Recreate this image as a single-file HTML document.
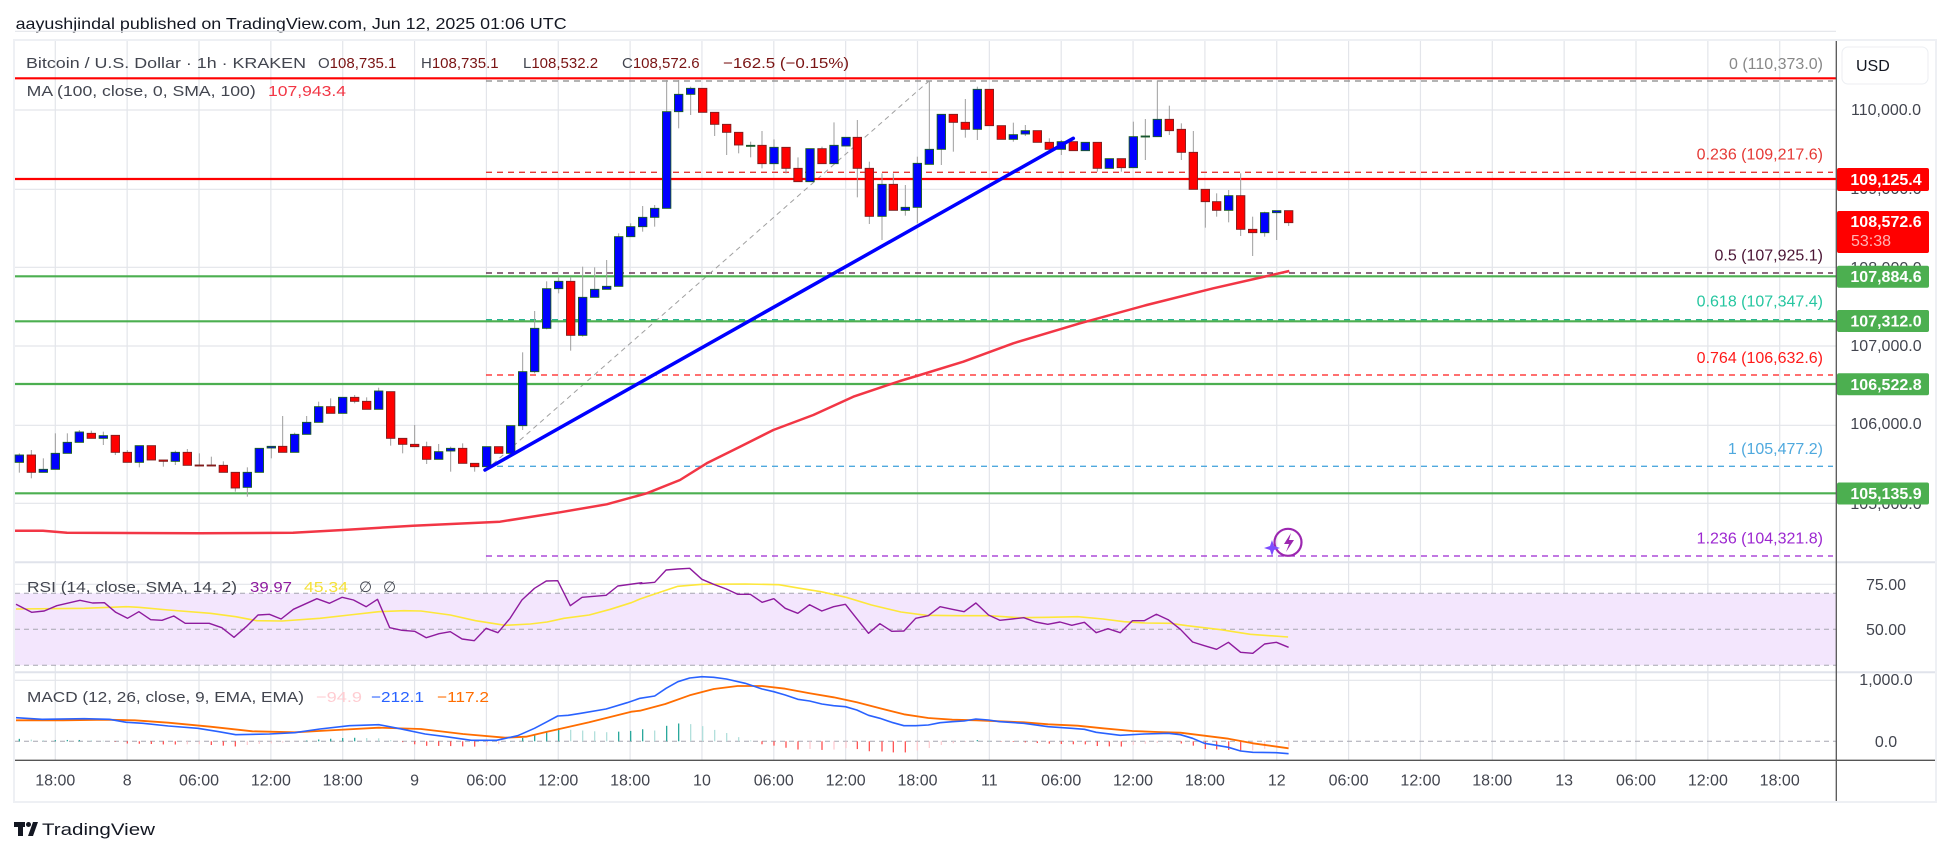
<!DOCTYPE html>
<html><head><meta charset="utf-8"><style>
html,body{margin:0;padding:0;background:#fff;}
svg{display:block;font-family:"Liberation Sans",Arial,sans-serif;}
</style></head><body>
<svg id="s" width="1950" height="855" viewBox="0 0 1950 855" xmlns="http://www.w3.org/2000/svg">
<rect width="1950" height="855" fill="#fff"/>
<text x="15.6" y="29" font-size="16" fill="#131722" textLength="551" lengthAdjust="spacingAndGlyphs">aayushjindal published on TradingView.com, Jun 12, 2025 01:06 UTC</text>
<rect x="14" y="40" width="1922" height="762" fill="none" stroke="#eef0f4" stroke-width="2"/>
<g id="grid"></g>
<!-- RSI band -->
<rect x="15" y="593.3" width="1821" height="72" fill="#f3e6fd"/>
<line x1="15" x2="1836" y1="593.3" y2="593.3" stroke="#a6a6b0" stroke-dasharray="5,4"/>
<line x1="15" x2="1836" y1="629.3" y2="629.3" stroke="#a6a6b0" stroke-dasharray="5,4"/>
<line x1="15" x2="1836" y1="665.3" y2="665.3" stroke="#a6a6b0" stroke-dasharray="5,4"/>
<line x1="15" x2="1836" y1="741.3" y2="741.3" stroke="#a6a6b0" stroke-dasharray="5,4"/>
<!-- pane separators -->
<line x1="15" x2="1935" y1="562.3" y2="562.3" stroke="#e0e3eb" stroke-width="2"/>
<line x1="15" x2="1935" y1="672.3" y2="672.3" stroke="#e0e3eb" stroke-width="2"/>
<!-- fib dashed lines -->
<g stroke-width="1.3" stroke-dasharray="6,5">
<line x1="486" x2="1833" y1="81" y2="81" stroke="#888"/>
<line x1="486" x2="1833" y1="172.3" y2="172.3" stroke="#e53935"/>
<line x1="486" x2="1833" y1="273" y2="273" stroke="#4a1535"/>
<line x1="486" x2="1833" y1="319.7" y2="319.7" stroke="#26b58f"/>
<line x1="486" x2="1833" y1="375" y2="375" stroke="#ff1a1a"/>
<line x1="486" x2="1833" y1="466.3" y2="466.3" stroke="#4fa9de"/>
<line x1="486" x2="1833" y1="556" y2="556" stroke="#9c27d0"/>
</g>
<line x1="486" y1="470" x2="929.3" y2="80.7" stroke="#a0a0a0" stroke-width="1" stroke-dasharray="5,4"/>
<!-- S/R lines -->
<g stroke-width="2.2">
<line x1="15" x2="1836" y1="78.3" y2="78.3" stroke="#ff0000"/>
<line x1="15" x2="1836" y1="179" y2="179" stroke="#ff0000"/>
<line x1="15" x2="1836" y1="276.3" y2="276.3" stroke="#4caf50"/>
<line x1="15" x2="1836" y1="321.3" y2="321.3" stroke="#4caf50"/>
<line x1="15" x2="1836" y1="384" y2="384" stroke="#4caf50"/>
<line x1="15" x2="1836" y1="493.3" y2="493.3" stroke="#4caf50"/>
</g>
<g id="ma"></g>
<g id="candles"></g>
<line x1="485" y1="470" x2="1073.3" y2="138.3" stroke="#0000ff" stroke-width="3.5" stroke-linecap="round"/>
<g id="ind"></g>
<!-- axes -->
<line x1="1836.3" x2="1836.3" y1="41" y2="801" stroke="#555" stroke-width="1.3"/>
<line x1="15" x2="1935" y1="760.3" y2="760.3" stroke="#555" stroke-width="1.3"/>
<!-- legends -->
<g font-size="15">
<text x="26" y="68" fill="#42454f" textLength="280" lengthAdjust="spacingAndGlyphs">Bitcoin / U.S. Dollar · 1h · KRAKEN</text>
<text x="318" y="68" fill="#42454f">O<tspan fill="#7a1414">108,735.1</tspan></text>
<text x="421" y="68" fill="#42454f">H<tspan fill="#7a1414">108,735.1</tspan></text>
<text x="523" y="68" fill="#42454f">L<tspan fill="#7a1414">108,532.2</tspan></text>
<text x="622" y="68" fill="#42454f">C<tspan fill="#7a1414">108,572.6</tspan></text>
<text x="723" y="68" fill="#7a1414" textLength="126" lengthAdjust="spacingAndGlyphs">−162.5 (−0.15%)</text>
<text x="26.7" y="96" fill="#42454f" textLength="229" lengthAdjust="spacingAndGlyphs">MA (100, close, 0, SMA, 100)</text>
<text x="268" y="96" fill="#f23645" textLength="78" lengthAdjust="spacingAndGlyphs">107,943.4</text>
<text x="27" y="592" fill="#42454f" textLength="210" lengthAdjust="spacingAndGlyphs">RSI (14, close, SMA, 14, 2)</text>
<text x="250" y="592" fill="#8e1b9e" textLength="42" lengthAdjust="spacingAndGlyphs">39.97</text>
<text x="304" y="592" fill="#f5e13a" textLength="44" lengthAdjust="spacingAndGlyphs">45.34</text>
<text x="359" y="592" fill="#42454f">∅</text>
<text x="383" y="592" fill="#42454f">∅</text>
<text x="27" y="702" fill="#42454f" textLength="277" lengthAdjust="spacingAndGlyphs">MACD (12, 26, close, 9, EMA, EMA)</text>
<text x="316" y="702" fill="#ffcdd2" textLength="46" lengthAdjust="spacingAndGlyphs">−94.9</text>
<text x="371" y="702" fill="#2962ff" textLength="53" lengthAdjust="spacingAndGlyphs">−212.1</text>
<text x="437" y="702" fill="#ff6d00" textLength="52" lengthAdjust="spacingAndGlyphs">−117.2</text>
</g>
<!-- fib labels -->
<g font-size="16" text-anchor="end">
<text x="1823" y="69" fill="#888">0 (110,373.0)</text>
<text x="1823" y="159.5" fill="#e53935">0.236 (109,217.6)</text>
<text x="1823" y="260.5" fill="#4a1535">0.5 (107,925.1)</text>
<text x="1823" y="306.5" fill="#26c6a0">0.618 (107,347.4)</text>
<text x="1823" y="363" fill="#ff1a1a">0.764 (106,632.6)</text>
<text x="1823" y="454" fill="#4fa9de">1 (105,477.2)</text>
<text x="1823" y="543.5" fill="#9c27d0">1.236 (104,321.8)</text>
</g>
<!-- lightning icon -->
<circle cx="1288" cy="542.3" r="13.5" fill="none" stroke="#9c27b0" stroke-width="2.2"/>
<path d="M1291 533 L1284 544 L1289 544 L1286 552 L1294 540 L1289 540 Z" fill="#9c27b0"/>
<path d="M1272 540 L1274 546 L1280 548 L1274 550 L1272 556 L1270 550 L1264 548 L1270 546 Z" fill="#7c4dff"/>
<!-- price axis -->
<rect x="1842" y="47" width="86" height="37" rx="6" fill="#fff" stroke="#eceef2"/>
<text x="1856" y="71" font-size="16" fill="#131722">USD</text>
<g font-size="16" fill="#42454f" text-anchor="middle">
<text x="1886" y="115">110,000.0</text>
<text x="1886" y="194">109,000.0</text>
<text x="1886" y="273">108,000.0</text>
<text x="1886" y="351">107,000.0</text>
<text x="1886" y="429">106,000.0</text>
<text x="1886" y="509">105,000.0</text>
<text x="1886" y="590">75.00</text>
<text x="1886" y="635">50.00</text>
<text x="1886" y="685">1,000.0</text>
<text x="1886" y="747">0.0</text>
</g>
<g font-size="16" fill="#fff" text-anchor="middle" font-weight="bold">
<rect x="1837" y="168" width="92" height="23" rx="2" fill="#ff0000"/><text x="1886" y="185">109,125.4</text>
<rect x="1837" y="211" width="92" height="42" rx="2" fill="#ff0000"/><text x="1886" y="227">108,572.6</text>
<text x="1871" y="246" fill="#ffb3b3" font-weight="normal">53:38</text>
<rect x="1837" y="265.7" width="92" height="22" rx="2" fill="#4caf50"/><text x="1886" y="282">107,884.6</text>
<rect x="1837" y="310" width="92" height="22" rx="2" fill="#4caf50"/><text x="1886" y="326.5">107,312.0</text>
<rect x="1837" y="373.3" width="92" height="22" rx="2" fill="#4caf50"/><text x="1886" y="390">106,522.8</text>
<rect x="1837" y="482.5" width="92" height="22" rx="2" fill="#4caf50"/><text x="1886" y="499">105,135.9</text>
</g>
<g id="time" font-size="16" fill="#42454f" text-anchor="middle"></g>
<!-- footer logo -->
<g fill="#131722">
<rect x="14" y="822" width="11" height="5"/><rect x="18" y="822" width="5" height="14"/>
<circle cx="28.5" cy="824.5" r="2.5"/>
<path d="M33 822 L38 822 L33 836 L28 836 Z"/>
<text x="42" y="835" font-size="17" textLength="113" lengthAdjust="spacingAndGlyphs">TradingView</text>
</g>
</svg>
<script>
(function(){
var NS="http://www.w3.org/2000/svg";
function el(parent,tag,attrs,txt){var e=document.createElementNS(NS,tag);for(var k in attrs)e.setAttribute(k,attrs[k]);if(txt!=null)e.textContent=txt;document.getElementById(parent).appendChild(e);return e;}
// grid
var gy=[31.3,110,189.3,267.3,346,425.3,503.3];
gy.forEach(function(y){el('grid','line',{x1:15,x2:1836,y1:y,y2:y,stroke:'#e3e5ea','stroke-width':1.2});});
el('grid','line',{x1:15,x2:1836,y1:584.3,y2:584.3,stroke:'#e3e5ea','stroke-width':1.2});
el('grid','line',{x1:15,x2:1836,y1:680.3,y2:680.3,stroke:'#e3e5ea','stroke-width':1.2});
var labels=["18:00","8","06:00","12:00","18:00","9","06:00","12:00","18:00","10","06:00","12:00","18:00","11","06:00","12:00","18:00","12","06:00","12:00","18:00","13","06:00","12:00","18:00"];
for(var k=0;k<25;k++){var x=55.3+71.85*k;
 el('grid','line',{x1:x,x2:x,y1:41,y2:760,stroke:'#e3e5ea','stroke-width':1.2});
 el('time','text',{x:x,y:785.5},labels[k]);}
// candles [px,bt,bb,c,wt,wb]
var groups=[[0,[[58,1185,1207,'b',1180,1238],[94,1185,1237,'r',1170,1255],[130,1228,1237,'b',1195,1237],[166,1180,1228,'b',1120,1228],[202,1147,1180,'b',1120,1180],[238,1116,1147,'b',1110,1147],[274,1120,1135,'r',1112,1135],[310,1127,1135,'b',1115,1155],[346,1126,1177,'r',1126,1185],[382,1177,1207,'r',1170,1207],[418,1157,1207,'b',1157,1222],[454,1157,1200,'r',1157,1200],[490,1200,1204,'r',1200,1220],[526,1177,1204,'b',1172,1215],[562,1177,1216,'r',1167,1216],[598,1215,1217,'r',1180,1217],[634,1215,1217,'r',1190,1217],[670,1216,1237,'r',1204,1237],[706,1237,1284,'r',1237,1295],[742,1237,1282,'b',1222,1310],[778,1165,1237,'b',1165,1237],[814,1159,1164,'b',1159,1195],[848,1159,1177,'r',1068,1177],[884,1123,1177,'b',1118,1177],[920,1087,1123,'b',1068,1123],[956,1040,1087,'b',1025,1087],[992,1040,1060,'r',1015,1060],[1028,1012,1060,'b',1012,1060],[1064,1012,1024,'r',1005,1030],[1100,1024,1048,'r',1012,1048],[1136,993,1048,'b',983,1048],[1172,995,1135,'r',995,1157],[1208,1135,1153,'r',1135,1180],[1244,1153,1160,'r',1095,1160],[1280,1160,1198,'r',1145,1212],[1316,1175,1198,'b',1152,1198],[1352,1165,1173,'b',1160,1235],[1388,1165,1210,'r',1150,1210],[1424,1210,1220,'r',1210,1235],[1460,1160,1220,'b',1160,1220]]],
[480,[[56,1160,1180,'r',1160,1180],[92,1097,1180,'b',1097,1180],[128,935,1097,'b',877,1110],[164,805,935,'b',753,940],[200,686,805,'b',664,808],[236,664,686,'b',650,700],[272,664,826,'r',650,872],[308,712,826,'b',620,830],[344,688,712,'b',622,712],[380,679,688,'b',600,688],[416,530,679,'b',520,679],[452,500,530,'b',490,530],[488,472,500,'b',438,515],[524,445,472,'b',435,500],[560,155,445,'b',60,445],[596,103,155,'b',60,205],[632,85,103,'b',80,165],[668,85,157,'r',85,157],[704,157,193,'r',157,228],[740,193,217,'r',193,285],[776,217,255,'r',217,280],[812,256,258,'b',245,292],[846,256,311,'r',213,325],[882,262,311,'b',238,330],[918,262,325,'r',262,340],[954,325,365,'r',292,365],[990,266,365,'b',266,365],[1026,266,311,'r',260,311],[1062,256,311,'b',187,311],[1098,232,258,'b',232,258],[1132,232,325,'r',180,412],[1168,325,469,'r',305,492],[1206,373,469,'b',340,540]]],
[880,[[40,373,451,'r',340,451],[76,442,451,'b',375,467],[112,310,442,'b',290,490],[148,268,313,'b',62,313],[184,163,268,'b',163,315],[220,163,187,'r',163,275],[256,187,208,'r',117,233],[292,88,208,'b',80,240],[328,88,197,'r',88,197],[364,197,238,'r',197,238],[400,224,238,'b',188,245],[436,212,222,'b',195,228],[472,212,247,'r',212,247],[508,247,268,'r',235,268],[544,245,268,'b',240,285],[580,245,272,'r',245,272],[616,247,272,'b',247,272],[652,247,325,'r',247,335],[688,296,325,'b',296,325],[724,296,323,'r',296,335],[760,230,323,'b',185,323],[796,228,231,'b',177,300],[832,178,230,'b',62,230],[868,178,212,'r',137,225],[904,208,277,'r',190,300],[940,277,388,'r',213,388],[976,388,425,'r',388,503],[1010,425,451,'r',400,470],[1046,407,451,'b',390,487],[1082,407,508,'r',340,528],[1118,508,518,'r',470,588],[1154,458,518,'b',455,530],[1190,452,458,'b',452,540],[1226,452,488,'r',452,498]]]];
var cx=[];
groups.forEach(function(g){g[1].forEach(function(c){
 var x=g[0]+c[0]/3, bt=60+c[1]/3, bb=60+c[2]/3, wt=60+c[4]/3, wb=60+c[5]/3;
 cx.push(x);
 el('candles','line',{x1:x,x2:x,y1:wt,y2:wb,stroke:'#9e9e9e','stroke-width':1});
 var h=Math.max(bb-bt,1);
 if(c[3]=='b') el('candles','rect',{x:x-4.2,y:bt,width:8.4,height:h,fill:'#0000ff',stroke:'#1b5e20','stroke-width':0.9});
 else el('candles','rect',{x:x-4.2,y:bt,width:8.4,height:h,fill:'#ff0000',stroke:'#7b1f1f','stroke-width':0.9});
});});
// MA
var ma=[[15,530.7],[43,530.7],[67,532.7],[200,533.3],[293,532.7],[343,530],[413,525.7],[500,521.7],[560,512.3],[606.7,504.3],[646.7,493.3],[680,480],[706.7,463.3],[740,446.7],[773.3,430],[813.3,415],[853.3,396.7],[900,381],[916.7,376],[963.3,361.7],[1013.3,343.3],[1080,323.3],[1146.7,305],[1213.3,288.3],[1289.3,271]];
el('ma','polyline',{points:ma.map(function(p){return p.join(',')}).join(' '),fill:'none',stroke:'#f23645','stroke-width':2.5,'stroke-linejoin':'round'});
// indicators
function conv(x0,arr){return arr.map(function(p){return [x0+p[0]/2.376,560+p[1]/3];});}
var rsi=conv(0,[[38,133],[75,157],[105,153],[135,137],[190,121],[220,129],[248,128],[275,157],[303,175],[330,155],[358,179],[385,181],[413,168],[440,190],[497,190],[527,203],[556,232],[585,200],[613,165],[640,163],[668,177],[697,148],[753,116],[783,130],[813,112],[840,120],[870,140],[897,118],[926,203],[955,211],[985,214],[1013,233],[1043,221],[1070,215],[1098,237],[1127,242],[1155,205],[1183,218],[1212,175],[1240,120],[1270,85],[1298,63],[1325,62],[1355,137],[1383,112],[1440,106],[1468,78],[1525,68]]).concat(conv(640,[[0,71],[35,67],[62,30],[90,27],[118,25],[147,58],[175,73],[205,87],[232,103],[262,103],[290,127],[318,116],[345,145],[375,160],[403,134],[432,153],[460,140],[488,133],[515,176],[543,220],[570,191],[598,214],[627,213],[655,175],[685,167],[713,140],[742,148],[770,155],[798,129],[828,165],[855,181],[884,177],[912,173],[940,186],[969,193],[998,186],[1026,196],[1056,187],[1084,218],[1112,206],[1141,218],[1170,182],[1198,182],[1227,163],[1255,179],[1284,208],[1313,246],[1341,257],[1370,268],[1398,247],[1427,277],[1456,280],[1484,252],[1512,247],[1541,262]]));
var ysma=conv(0,[[38,147],[200,145],[300,140],[330,142],[400,150],[500,160],[560,170],[610,182],[670,183],[760,175],[830,165],[900,155],[960,152],[1000,153],[1070,165],[1130,182],[1200,196],[1260,192],[1300,186],[1340,175],[1400,165],[1450,148],[1500,128]]).concat(conv(640,[[0,117],[35,102],[90,79],[147,73],[250,72],[330,74],[380,85],[430,95],[490,112],[550,135],[620,156],[680,166],[760,167],[830,167],[900,173],[970,172],[1040,170],[1100,177],[1150,185],[1200,189],[1260,190],[1300,197],[1380,209],[1450,223],[1540,231]]));
var blue=conv(0,[[38,473],[100,478],[200,476],[260,478],[300,487],[340,490],[400,498],[470,505],[520,515],[560,524],[640,522],[700,518],[760,507],[830,497],[900,494],[950,506],[1010,522],[1060,530],[1120,541],[1180,541],[1230,527],[1270,505],[1300,485],[1325,468],[1350,466],[1380,460],[1440,447],[1490,428]]).concat(conv(640,[[0,415],[35,408],[62,385],[90,365],[118,354],[147,350],[175,352],[205,357],[250,370],[290,387],[318,395],[345,405],[375,418],[403,423],[432,432],[460,437],[488,440],[515,450],[543,466],[570,475],[598,487],[627,497],[655,497],[685,495],[713,488],[742,485],[770,483],[798,477],[828,480],[855,485],[912,490],[970,500],[1026,505],[1056,508],[1084,517],[1141,526],[1198,522],[1255,520],[1284,524],[1313,535],[1341,550],[1370,556],[1398,562],[1427,573],[1456,577],[1512,578],[1541,581]]));
var orange=conv(0,[[38,481],[150,481],[250,479],[320,481],[400,488],[500,500],[600,514],[700,517],[800,510],[900,503],[1000,507],[1100,522],[1200,533],[1250,530],[1300,515],[1400,487],[1500,455]]).concat(conv(640,[[0,452],[60,432],[118,406],[175,387],[232,378],[290,378],[345,386],[403,400],[460,412],[515,427],[570,445],[627,463],[685,474],[742,479],[800,481],[855,484],[912,487],[970,493],[1040,497],[1100,505],[1170,513],[1230,516],[1284,518],[1341,527],[1398,536],[1456,550],[1541,565]]));
function interp(arr,x){if(x<=arr[0][0])return arr[0][1];for(var i=1;i<arr.length;i++){if(arr[i][0]>=x){var a=arr[i-1],b=arr[i];return a[1]+(b[1]-a[1])*(x-a[0])/(b[0]-a[0]);}}return arr[arr.length-1][1];}
var prev=null;
cx.forEach(function(x){var h=interp(orange,x)-interp(blue,x);var col;
 if(h>=0) col=(prev!==null&&h<prev)?'#b2dfdb':'#26a69a'; else col=(prev!==null&&h>prev)?'#ffcdd2':'#ff5252';
 prev=h; el('ind','line',{x1:x,x2:x,y1:741.3,y2:741.3-h,stroke:col,'stroke-width':1.3});});
function pl(arr,col,w){el('ind','polyline',{points:arr.map(function(p){return p[0].toFixed(1)+','+p[1].toFixed(1)}).join(' '),fill:'none',stroke:col,'stroke-width':w,'stroke-linejoin':'round'});}
pl(ysma,'#fde73a',1.6);
pl(rsi,'#8e1b9e',1.4);
pl(orange,'#ff6d00',1.8);
pl(blue,'#2962ff',1.6);
})();
</script>
</body></html>
